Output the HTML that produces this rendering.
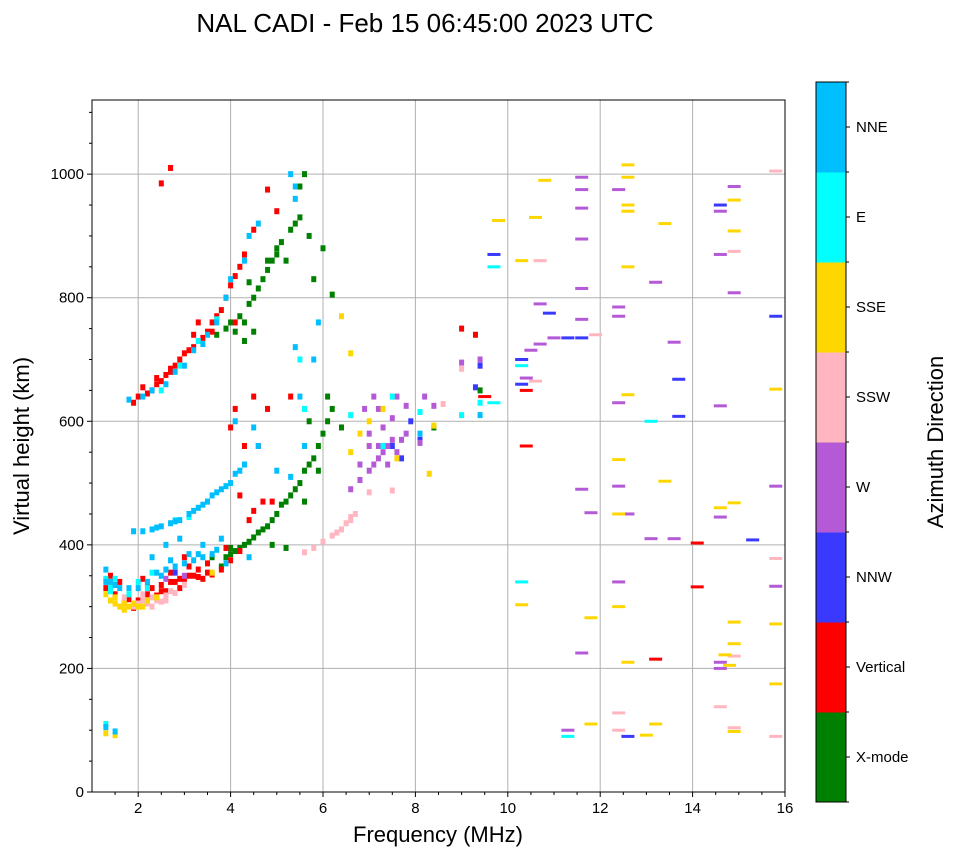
<!DOCTYPE html>
<html><head><meta charset="utf-8"><style>
body{margin:0;background:#fff;}
svg text{font-family:"Liberation Sans",sans-serif;fill:#000;}
</style></head><body>
<svg id="chart" width="958" height="857" xmlns="http://www.w3.org/2000/svg">
<text x="425" y="32" font-size="26" text-anchor="middle">NAL CADI - Feb 15 06:45:00 2023 UTC</text>
<g id="grid"></g>
<g id="marks"></g>
<rect x="92" y="100" width="693" height="692" fill="none" stroke="#000" stroke-width="1"/>
<g id="axes"></g>
<text x="438" y="842" font-size="22" text-anchor="middle">Frequency (MHz)</text>
<text transform="translate(29,446) rotate(-90)" font-size="22" text-anchor="middle">Virtual height (km)</text>
<g id="cbar"></g>
<text transform="translate(943,442) rotate(-90)" font-size="22" text-anchor="middle">Azimuth Direction</text>
</svg>
<script>
const dirNames=["X-mode","Vertical","NNW","W","SSW","SSE","E","NNE"];
const dirColors=["#008000","#ff0000","#3a3aff","#b45ad6","#ffb6c1","#ffd700","#00ffff","#00bfff"];
const xTicks=[2,4,6,8,10,12,14,16];
const yTicks=[0,200,400,600,800,1000];
const greenPts=[[3.9,380],[4.0,385],[4.2,395],[4.4,405],[4.6,420],[4.8,430],[5.0,450],[5.1,465],[5.3,480],[5.5,500],[5.6,520],[5.8,540],[5.9,560],[6.0,580],[6.1,600],[6.2,620],[4.9,400],[5.2,395],[3.6,380],[4.0,760],[4.2,770],[4.4,790],[4.5,800],[4.7,830],[4.9,860],[5.1,890],[5.3,910],[5.5,930],[5.5,980],[5.6,1000],[5.7,900],[6.0,880],[4.4,825],[5.8,830],[6.2,805],[6.1,640],[6.4,590],[8.4,590],[9.4,650],[5.7,600],[5.2,860],[5.0,880],[4.8,860],[3.7,740],[4.3,730],[4.5,745],[4.0,395],[5.6,470],[5.9,520],[3.8,365],[4.1,390],[4.3,400],[4.5,412],[4.7,425],[4.9,440],[5.2,470],[5.4,490],[5.7,530],[4.6,815],[4.8,845],[5.0,870],[5.4,920],[4.1,745],[4.3,760],[3.9,750]];
const redPts=[[1.3,330],[1.4,350],[1.5,320],[1.7,305],[1.8,312],[2.0,310],[2.2,320],[2.3,330],[2.5,335],[2.6,325],[2.8,340],[3.0,345],[3.2,350],[3.4,345],[3.6,352],[1.9,298],[2.4,318],[2.1,345],[2.9,330],[3.3,360],[3.5,370],[3.8,360],[4.0,375],[4.2,390],[3.9,395],[3.0,380],[4.5,455],[4.7,470],[4.2,480],[4.4,440],[4.9,470],[4.3,560],[4.6,560],[4.0,590],[4.8,620],[4.1,620],[4.5,640],[5.3,640],[1.9,630],[2.0,640],[2.2,645],[2.3,650],[2.4,660],[2.5,665],[2.6,675],[2.8,690],[2.9,700],[3.0,710],[3.2,720],[3.4,735],[3.5,745],[3.6,760],[3.8,780],[3.9,800],[4.0,820],[4.2,850],[4.3,870],[4.5,910],[4.1,760],[3.3,760],[2.5,985],[2.7,1010],[4.8,975],[5.0,940],[9.0,750],[9.3,740],[9.5,640],[10.4,650],[10.4,560],[14.1,403],[14.1,332],[13.2,215],[2.7,355],[3.1,365],[1.6,340],[2.2,335],[2.5,325],[2.7,340],[2.9,345],[3.1,350],[3.3,348],[3.5,355],[2.1,655],[2.7,685],[3.1,715],[3.7,770],[4.1,835],[2.4,670],[2.7,680],[3.2,740],[3.6,745]];
const nnwPts=[[7.7,540],[7.5,560],[8.1,570],[9.4,690],[9.7,870],[10.3,700],[10.9,775],[11.3,735],[11.6,735],[12.6,90],[13.7,668],[13.7,608],[14.6,950],[15.3,408],[15.8,770],[10.3,660],[9.3,655],[2.8,355],[7.9,600]];
const wPts=[[6.6,490],[6.8,505],[7.0,520],[7.1,530],[7.2,540],[7.3,550],[7.4,560],[7.5,570],[7.3,590],[7.0,580],[7.2,620],[7.5,605],[7.8,625],[7.6,640],[6.9,620],[7.1,640],[7.8,580],[8.2,640],[8.4,625],[8.1,565],[9.0,695],[9.4,700],[10.4,670],[10.5,715],[10.7,725],[10.7,790],[11.0,735],[11.6,995],[11.6,975],[11.6,945],[11.6,895],[11.6,815],[11.6,765],[12.4,975],[12.4,785],[12.4,770],[12.4,630],[12.4,495],[12.6,450],[12.4,340],[13.2,825],[13.6,728],[13.1,410],[13.6,410],[14.6,870],[14.6,940],[14.9,980],[14.9,808],[14.6,625],[14.6,445],[14.6,210],[14.6,200],[15.8,495],[15.8,333],[11.6,490],[11.8,452],[11.6,225],[11.3,100],[2.6,345],[3.0,350],[7.4,530],[7.6,550],[7.2,560],[7.7,570],[7.0,560],[6.8,530]];
const ssuwPts=[[1.9,300],[2.0,305],[2.2,305],[2.4,310],[2.6,318],[2.8,322],[2.1,320],[5.6,388],[5.8,395],[6.0,405],[6.2,415],[6.4,425],[6.5,435],[6.6,445],[6.7,450],[7.0,485],[9.0,685],[10.7,860],[10.6,665],[11.9,740],[12.4,128],[12.4,100],[14.6,138],[14.9,104],[14.9,875],[15.8,378],[15.8,90],[14.9,220],[15.8,1005],[8.6,628],[7.5,488],[2.3,300],[2.5,308],[1.7,315],[2.1,310],[2.3,315],[2.6,310],[2.7,325],[3.0,335],[6.3,420],[6.6,440]];
const ssePts=[[1.3,320],[1.4,310],[1.5,305],[1.6,300],[1.8,300],[1.9,305],[2.2,310],[2.4,315],[3.6,355],[1.4,340],[1.3,95],[1.5,92],[6.6,710],[6.6,550],[6.8,580],[7.0,600],[7.3,620],[7.6,540],[8.3,515],[8.4,593],[6.4,770],[9.8,925],[10.6,930],[10.3,860],[10.8,990],[12.6,850],[12.6,950],[12.6,940],[12.6,995],[12.6,1015],[13.4,920],[12.4,538],[12.4,450],[12.4,300],[11.8,282],[12.6,210],[13.2,110],[11.8,110],[13.0,92],[14.7,222],[14.8,205],[14.9,240],[14.9,275],[14.9,468],[14.6,460],[14.9,958],[14.9,908],[14.9,98],[15.8,652],[15.8,272],[15.8,175],[10.3,303],[13.4,503],[12.6,643],[1.7,295],[2.0,300],[1.5,315],[1.7,305],[2.1,300]];
const ePts=[[1.4,325],[1.5,345],[1.8,320],[2.2,330],[2.6,360],[3.1,445],[3.5,470],[2.5,650],[2.9,690],[3.3,730],[3.7,765],[5.6,620],[5.5,700],[7.5,640],[7.3,560],[8.1,615],[9.0,610],[9.4,630],[9.7,630],[10.3,690],[10.3,340],[11.3,90],[1.3,110],[9.7,850],[13.1,600],[6.6,610],[1.3,345],[2.0,340],[1.4,330],[2.3,355],[2.8,440]];
const nnePts=[[1.3,360],[1.4,340],[1.6,330],[2.0,330],[2.2,340],[2.4,355],[2.6,360],[2.8,365],[3.0,370],[3.2,375],[3.4,380],[3.6,385],[2.3,380],[2.6,400],[2.9,410],[3.4,400],[3.8,410],[1.9,422],[2.1,422],[2.3,425],[2.5,430],[2.7,435],[2.9,440],[3.1,450],[3.3,460],[3.5,470],[3.6,480],[3.8,490],[4.0,500],[4.1,515],[4.3,530],[4.6,560],[4.5,590],[4.1,600],[5.0,520],[5.3,510],[5.6,560],[5.5,640],[5.8,700],[5.9,760],[5.4,720],[1.8,635],[2.1,640],[2.6,660],[3.0,690],[3.2,715],[3.5,740],[3.7,760],[3.9,800],[4.0,830],[4.3,860],[4.4,900],[4.6,920],[5.3,1000],[5.4,980],[5.4,960],[8.1,580],[9.4,610],[1.3,105],[1.5,98],[3.9,370],[4.4,380],[1.3,340],[1.5,335],[1.8,330],[2.5,350],[2.7,375],[3.1,385],[3.3,385],[3.7,392],[3.4,465],[3.7,485],[3.9,495],[4.2,520],[2.4,428],[2.8,438],[3.2,455],[2.3,650],[2.8,680],[3.4,725]];
const series=[greenPts,redPts,nnwPts,wPts,ssuwPts,ssePts,ePts,nnePts];

const NS="http://www.w3.org/2000/svg";
const X0=92,X1=785,Y0=792,Y1=100;
const xs=f=>X0+(f-1)/(16-1)*(X1-X0);
const ys=h=>Y0-h/1120*(Y0-Y1);
function mk(tag,attrs,parent){const e=document.createElementNS(NS,tag);for(const k in attrs)e.setAttribute(k,attrs[k]);parent.appendChild(e);return e;}
const grid=document.getElementById('grid'),axes=document.getElementById('axes'),marks=document.getElementById('marks'),cbar=document.getElementById('cbar');
xTicks.forEach(t=>{const x=xs(t);
 const g=mk('line',{x1:x,x2:x,y1:Y1,y2:Y0,stroke:'#b0b0b0','stroke-width':1},grid);
 
 mk('line',{x1:x,x2:x,y1:Y0,y2:Y0+5,stroke:'#000'},axes);
 const tx=mk('text',{x:x,y:Y0+21,'font-size':15,'text-anchor':'middle'},axes);tx.textContent=t;
 });
for(let t=1.5;t<16;t+=0.5){if(t%2!==0)mk('line',{x1:xs(t),x2:xs(t),y1:Y0,y2:Y0+3,stroke:'#000'},axes);}
yTicks.forEach(t=>{const y=ys(t);
 if(t>0){const g=mk('line',{x1:X0,x2:X1,y1:y,y2:y,stroke:'#b0b0b0','stroke-width':1},grid);
 }
 mk('line',{x1:X0-5,x2:X0,y1:y,y2:y,stroke:'#000'},axes);
 const tx=mk('text',{x:X0-8,y:y+5,'font-size':15,'text-anchor':'end'},axes);tx.textContent=t;
 });
for(let t=50;t<1120;t+=50){if(t%200!==0)mk('line',{x1:X0-3,x2:X0,y1:ys(t),y2:ys(t),stroke:'#000'},axes);}
series.forEach((pts,d)=>{pts.forEach(p=>{
 const wide=p[0]>=9.5;const w=wide?13:5,h=wide?3:6;
 const r=mk('rect',{x:xs(p[0])-w/2,y:ys(p[1])-h/2,width:w,height:h,fill:dirColors[d]},marks);
 
 });});
const CX=816,CW=30,CT=82,CB=802,seg=(CB-CT)/8;
dirNames.forEach((n,i)=>{const y=CB-(i+1)*seg;
 const r=mk('rect',{x:CX,y:y,width:CW,height:seg+0.5,fill:dirColors[i]},cbar);
 
 mk('line',{x1:CX+CW,x2:CX+CW+4,y1:y+seg/2,y2:y+seg/2,stroke:'#000'},cbar);
 mk('line',{x1:CX+CW,x2:CX+CW+3,y1:y,y2:y,stroke:'#000'},cbar);
 const t=mk('text',{x:CX+CW+10,y:y+seg/2+5,'font-size':15},cbar);t.textContent=n;
 });
mk('line',{x1:CX+CW,x2:CX+CW+3,y1:CB,y2:CB,stroke:'#000'},cbar);
mk('rect',{x:CX,y:CT,width:CW,height:CB-CT,fill:'none',stroke:'#000'},cbar);
</script>
</body></html>
